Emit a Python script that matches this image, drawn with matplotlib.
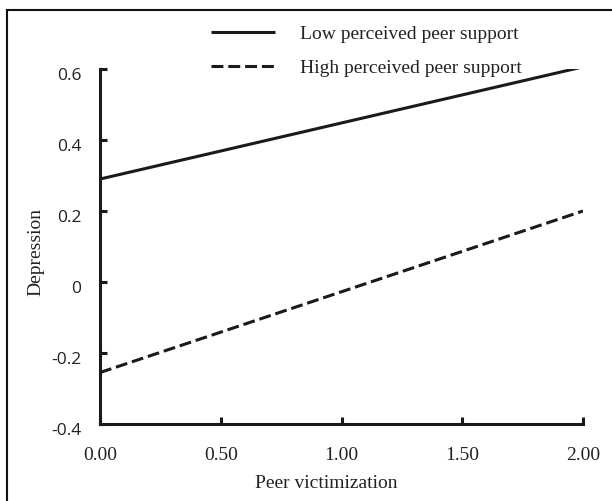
import matplotlib.pyplot as plt
from matplotlib.lines import Line2D
from matplotlib.transforms import ScaledTranslation

# data
victimization = [0.0, 2.0]
low_support = [0.290, 0.606]
high_support = [-0.255, 0.200]
xticks = [0.0, 0.5, 1.0, 1.5, 2.0]
xtick_labels = ["0.00", "0.50", "1.00", "1.50", "2.00"]
yticks = [-0.4, -0.2, 0.0, 0.2, 0.4, 0.6]
ytick_labels = ["-0.4", "-0.2", "0", "0.2", "0.4", "0.6"]

W, H = 612, 501
serif = "Liberation Serif"
ink = "#222222"

fig = plt.figure(figsize=(W / 100, H / 100), dpi=100)
ax = fig.add_axes([100 / W, 1 - 424 / H, 483 / W, 355 / H])

ax.plot(victimization, low_support, color="#1a1a1a", lw=2.2, solid_capstyle="butt",
        label="Low perceived peer support")
ax.plot(victimization, high_support, color="#1a1a1a", lw=2.2, ls=(0, (3.9, 1.6)),
        label="High perceived peer support")

ax.set_xlim(0, 2.0)
ax.set_ylim(-0.4, 0.6)
ax.set_xticks(xticks)
ax.set_xticklabels(xtick_labels, family=serif, fontsize=14, color=ink)
ax.set_yticks(yticks)
ax.set_yticklabels(ytick_labels, family="Open Sans", fontsize=12.5, color=ink)
ax.tick_params(direction="in", length=5, width=2.2, color="#1a1a1a")
ax.tick_params(axis="x", pad=16.5)
ax.tick_params(axis="y", pad=13.5)

# y tick labels sit a little below their ticks in the reference
shift = ScaledTranslation(0, -5 / 100, fig.dpi_scale_trans)
for lab in ax.get_yticklabels():
    lab.set_transform(lab.get_transform() + shift)

for side in ["top", "right"]:
    ax.spines[side].set_visible(False)
for side in ["left", "bottom"]:
    ax.spines[side].set_linewidth(2.2)
    ax.spines[side].set_color("#1a1a1a")
    ax.spines[side].set_capstyle("projecting")

ax.set_xlabel("Peer victimization", family=serif, fontsize=14, color=ink)
ax.xaxis.set_label_coords(0.468, -0.145)
ax.set_ylabel("Depression", family=serif, fontsize=14, color=ink, va="center")
ax.yaxis.set_label_coords(-0.133, 0.485)

leg = ax.legend(loc="upper left", bbox_to_anchor=(211 / W, 1 - 25 / H),
                bbox_transform=fig.transFigure, frameon=False, borderpad=0,
                borderaxespad=0, prop={"family": serif, "size": 14},
                handlelength=3.3, handletextpad=1.3, labelspacing=0.85)
for t in leg.get_texts():
    t.set_color(ink)

# partial frame around the figure (top and left edges visible)
fig.add_artist(Line2D([7 / W, 1], [1 - 10 / H, 1 - 10 / H], transform=fig.transFigure,
                      color="#111111", lw=1.5))
fig.add_artist(Line2D([7 / W, 7 / W], [1 - 10 / H, 0], transform=fig.transFigure,
                      color="#111111", lw=1.5))

fig.savefig("out.png", dpi=100)
